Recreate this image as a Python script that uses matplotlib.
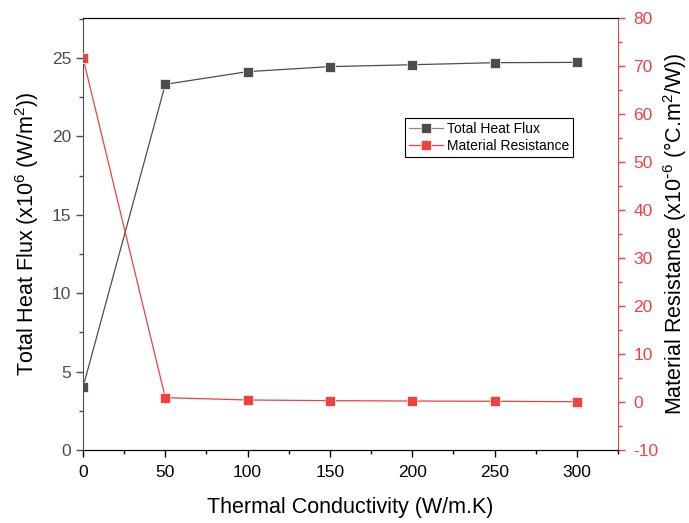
import matplotlib
matplotlib.use("Agg")
import matplotlib.pyplot as plt
from matplotlib.ticker import MultipleLocator

plt.rcParams['font.family'] = ['Liberation Sans', 'DejaVu Sans']
plt.rcParams['mathtext.default'] = 'regular'
plt.rcParams['axes.unicode_minus'] = False

conductivity = [0, 50, 100, 150, 200, 250, 300]
heat_flux = [4.0, 23.32, 24.13, 24.45, 24.57, 24.70, 24.72]
resistance = [71.7, 0.9, 0.42, 0.28, 0.2, 0.15, 0.06]

gray = '#4d4d4d'
red = '#f04040'

fig = plt.figure(figsize=(6.89, 5.23), dpi=100)
ax = fig.add_axes([83/689, 1-450/523, (618-83)/689, (450-18)/523])
ax2 = ax.twinx()

l1, = ax.plot(conductivity, heat_flux, '-s', color=gray, lw=0.9, ms=6.5,
              markeredgecolor='white', markeredgewidth=0.5, label='Total Heat Flux')
l2, = ax2.plot(conductivity, resistance, '-s', color=red, lw=0.9, ms=6.5,
               markeredgecolor='white', markeredgewidth=0.5, label='Material Resistance')

ax.set_xlim(0, 325)
ax.set_ylim(0, 27.55)
ax2.set_ylim(-10, 80)

ax.xaxis.set_major_locator(MultipleLocator(50))
ax.xaxis.set_minor_locator(MultipleLocator(25))
ax.yaxis.set_major_locator(MultipleLocator(5))
ax.yaxis.set_minor_locator(MultipleLocator(2.5))
ax2.yaxis.set_major_locator(MultipleLocator(10))
ax2.yaxis.set_minor_locator(MultipleLocator(5))

for a in (ax, ax2):
    a.tick_params(which='major', direction='out', length=5, width=1)
    a.tick_params(which='minor', direction='out', length=3, width=1)

ax.tick_params(axis='x', which='both', colors='black', labelsize=12.5, top=False, pad=6)
ax.tick_params(axis='y', which='both', colors=gray, labelcolor=gray, labelsize=12.5)
ax2.tick_params(axis='y', which='both', colors=red, labelcolor=red, labelsize=12.5, pad=6)

ax.spines['left'].set_color(gray)
ax2.spines['left'].set_visible(False)
ax2.spines['right'].set_color(red)
ax.spines['right'].set_visible(False)
for a in (ax, ax2):
    a.spines['top'].set_color('black')
    a.spines['bottom'].set_color('black')

ax.set_xlabel('Thermal Conductivity (W/m.K)', fontsize=15.5, labelpad=12)
ax.set_ylabel('Total Heat Flux (x10$^6$ (W/m$^2$))', fontsize=15.5, labelpad=8)
ax2.set_ylabel('Material Resistance (x10$^{\\text{-}6}$ (°C.m$^2$/W))', fontsize=15.5)
ax2.yaxis.set_label_coords(1.080, 0.5)

leg = ax2.legend([l1, l2], ['Total Heat Flux', 'Material Resistance'],
                 loc='upper left', bbox_to_anchor=(0.602, 0.769), fontsize=10,
                 frameon=True, fancybox=False, framealpha=1, borderpad=0.3,
                 handlelength=2.4, handletextpad=0.3, labelspacing=0.2,
                 borderaxespad=0)
leg.get_frame().set_edgecolor('black')
leg.get_frame().set_linewidth(0.8)
leg.get_lines()[0].set_color('#888888')
leg.get_lines()[0].set_markerfacecolor(gray)
leg.get_lines()[0].set_markeredgecolor('white')

fig.savefig('out.png', dpi=100)
